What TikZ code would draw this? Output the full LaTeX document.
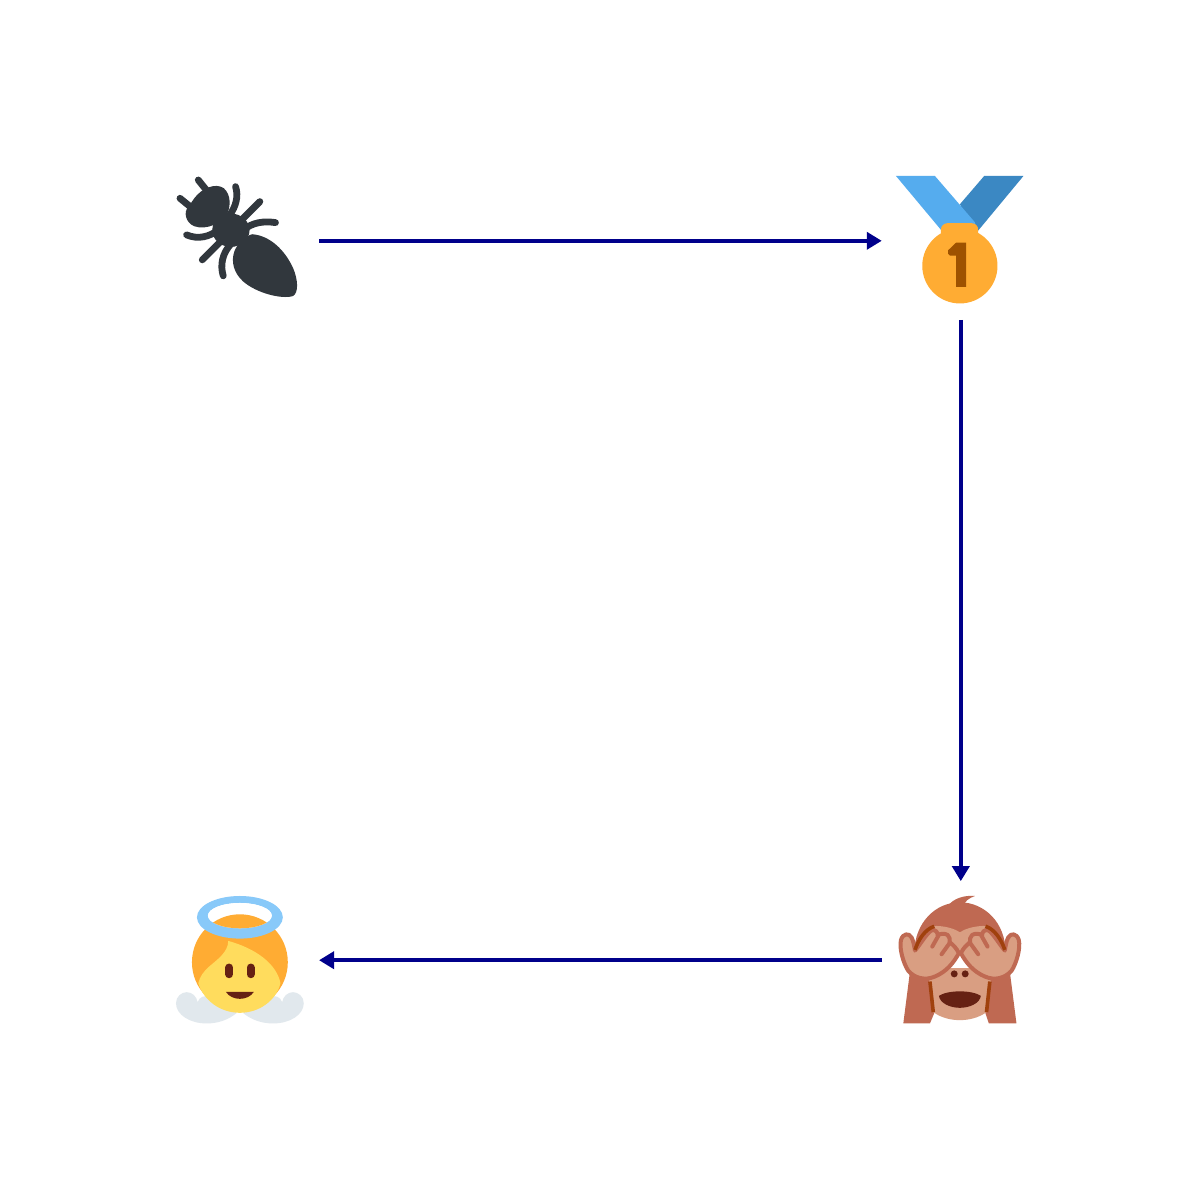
\documentclass[tikz,border=0pt]{standalone}
\usetikzlibrary{arrows.meta}
\definecolor{flowblue}{HTML}{00008B}
\definecolor{antdark}{HTML}{31373D}
\definecolor{ribbonlight}{HTML}{55ACEE}
\definecolor{ribbondark}{HTML}{3B88C3}
\definecolor{gold}{HTML}{FFAC33}
\definecolor{numbrown}{HTML}{9E5200}
\definecolor{furbrown}{HTML}{BF6952}
\definecolor{skintone}{HTML}{D99E82}
\definecolor{deepbrown}{HTML}{662113}
\definecolor{linebrown}{HTML}{A0410D}
\definecolor{wing}{HTML}{E1E8ED}
\definecolor{halo}{HTML}{88C9F9}
\definecolor{facey}{HTML}{FFDC5D}
\tikzset{
  iconbox/.style={inner sep=0pt,outer sep=0pt,draw=none,minimum width=1.58cm,minimum height=1.58cm},
  flow/.style={draw=flowblue,line width=0.037cm,-{Triangle[length=0.15cm,width=0.17cm,flowblue]}},
  zoomed/.style={x=0.0033333cm,y=-0.0033333cm},
  antleg/.style={draw=antdark,line width=0.068cm,line cap=round},
  handline/.style={draw=furbrown,line width=0.04cm,line cap=round,line join=round},
  darkline/.style={draw=linebrown,line width=0.036cm,line cap=butt},
  eyeline/.style={draw=deepbrown,line width=0.08cm,line cap=round}
}
\begin{document}
\begin{tikzpicture}[x=0.01cm,y=-0.01cm]
\useasboundingbox (0,0) rectangle (1200,1200);
\fill[white] (0,0) rectangle (1200,1200);

% ---------- ant ----------
\begin{scope}[shift={(165,165)},zoomed]
\fill[antdark] (262,208) .. controls (315,212) and (360,255) .. (385,310)
  .. controls (400,345) and (402,385) .. (384,394)
  .. controls (350,404) and (275,385) .. (235,350)
  .. controls (207,325) and (197,290) .. (209,258)
  .. controls (219,235) and (237,215) .. (262,208) -- cycle;
\fill[antdark] (198,196) ellipse [x radius=56,y radius=50];
\fill[antdark] (88,100) .. controls (110,70) and (152,52) .. (177,70)
  .. controls (199,90) and (197,125) .. (187,147)
  .. controls (172,174) and (125,197) .. (88,184)
  .. controls (60,172) and (56,140) .. (70,126) -- cycle;
\draw[antleg] (45,100) -- (78,127);
\draw[antleg] (100,45) -- (128,80);
\draw[antleg] (212,65) .. controls (222,95) and (212,125) .. (195,150);
\draw[antleg] (285,110) -- (225,170);
\draw[antleg] (332,173) .. controls (295,168) and (265,172) .. (235,195);
\draw[antleg] (65,210) .. controls (100,225) and (135,215) .. (160,195);
\draw[antleg] (112,285) -- (175,222);
\draw[antleg] (175,333) .. controls (165,300) and (172,265) .. (200,235);
\end{scope}

% ---------- medal ----------
\begin{scope}[shift={(885,165)},zoomed]
\fill[ribbondark] (225,118) -- (298,33) -- (416,33) -- (280,197) -- (262,190) -- cycle;
\fill[ribbonlight] (33,33) -- (150,33) -- (270,172) -- (275,192) -- (170,197) -- cycle;
\fill[gold] (225,303) circle [radius=113];
\fill[gold,rounded corners=1.8pt] (168,175) rectangle (280,235);
\fill[numbrown] (214,233) -- (244,233) -- (244,366) -- (214,366) -- (214,272)
  -- (195,272) -- (190,267) -- (190,256) -- cycle;
\end{scope}

% ---------- monkey ----------
\begin{scope}[shift={(885,885)},zoomed]
% tuft and head
\fill[furbrown] (190,62) .. controls (205,40) and (240,30) .. (270,33)
  .. controls (250,40) and (240,50) .. (238,60) -- cycle;
\fill[furbrown] (88,200) .. controls (90,115) and (150,52) .. (225,52)
  .. controls (300,52) and (362,115) .. (362,200) -- cycle;
% arms
\fill[furbrown] (75,260) -- (55,416) -- (135,416) -- (150,380) -- (150,260) -- cycle;
\fill[furbrown] (375,260) -- (395,416) -- (312,416) -- (300,380) -- (300,260) -- cycle;
% lower face
\fill[skintone] (135,250) -- (315,250) -- (318,295) -- (305,382)
  .. controls (280,400) and (250,406) .. (225,406)
  .. controls (200,406) and (170,400) .. (145,382)
  -- (133,295) -- cycle;
\draw[darkline] (135,290) -- (145,382);
\draw[darkline] (315,290) -- (305,382);
% upper face
\fill[skintone] (95,200) .. controls (100,150) and (125,122) .. (155,123)
  .. controls (185,124) and (210,132) .. (225,142)
  .. controls (240,132) and (265,124) .. (295,123)
  .. controls (325,122) and (350,150) .. (355,200) -- cycle;
% hands
\foreach \sx/\ox in {1/0,-1/450}{
\begin{scope}[shift={(\ox,0)},xscale=\sx]
\filldraw[handline,fill=skintone]
  (90,197) .. controls (105,180) and (122,150) .. (138,137)
  .. controls (152,130) and (160,145) .. (158,152)
  .. controls (165,145) and (180,145) .. (188,150)
  .. controls (195,156) and (196,165) .. (194,172)
  .. controls (205,180) and (215,190) .. (222,205)
  .. controls (205,235) and (185,260) .. (150,275)
  .. controls (120,288) and (90,280) .. (70,258)
  .. controls (55,235) and (42,190) .. (48,165)
  .. controls (54,145) and (72,143) .. (80,158)
  .. controls (86,170) and (88,185) .. (90,197) -- cycle;
\draw[handline] (142,185) -- (160,153);
\draw[handline] (170,208) -- (196,172);
\draw[darkline] (90,195) .. controls (100,165) and (120,133) .. (148,124);
\end{scope}}
% nostrils
\fill[deepbrown] (208,267) circle [radius=10.5];
\fill[deepbrown] (241,267) circle [radius=10.5];
% mouth
\fill[deepbrown] (162,333) .. controls (190,315) and (260,315) .. (288,333)
  .. controls (285,355) and (255,369) .. (225,369)
  .. controls (195,369) and (165,355) .. (162,333) -- cycle;
\end{scope}

% ---------- angel ----------
\begin{scope}[shift={(165,885)},zoomed]
\fill[wing] (33,355) .. controls (33,335) and (50,322) .. (65,322)
  .. controls (82,322) and (95,335) .. (98,352)
  .. controls (110,320) and (150,330) .. (215,385)
  .. controls (190,405) and (160,416) .. (125,416)
  .. controls (75,416) and (33,390) .. (33,355) -- cycle;
\fill[wing] (417,355) .. controls (417,335) and (400,322) .. (385,322)
  .. controls (368,322) and (355,335) .. (352,352)
  .. controls (340,320) and (300,330) .. (235,385)
  .. controls (260,405) and (290,416) .. (325,416)
  .. controls (375,416) and (417,390) .. (417,355) -- cycle;
\fill[gold] (225,232) circle [radius=144];
\fill[facey] (190,168) .. controls (190,200) and (160,222) .. (135,243)
  .. controls (115,260) and (105,275) .. (100,295)
  .. controls (115,345) and (165,384) .. (225,384)
  .. controls (285,384) and (335,345) .. (347,295)
  .. controls (335,235) and (270,190) .. (190,168) -- cycle;
\fill[halo,even odd rule] (225,97) ellipse [x radius=129,y radius=64]
  (225,92) ellipse [x radius=96,y radius=38];
\begin{scope}
\clip (225,92) ellipse [x radius=96,y radius=38];
\fill[white] (100,40) rectangle (350,140);
\fill[gold] (225,232) circle [radius=144];
\end{scope}
\draw[eyeline] (193,248) -- (193,268);
\draw[eyeline] (257,248) -- (257,268);
\fill[deepbrown] (183,321) -- (267,321) .. controls (258,335) and (242,342) .. (225,342)
  .. controls (208,342) and (192,335) .. (183,321) -- cycle;
\end{scope}

% ---------- graph nodes and connectors ----------
\node[iconbox] (ant) at (240,240.8) {};
\node[iconbox] (medal) at (960.8,240.8) {};
\node[iconbox] (monkey) at (960.8,960.2) {};
\node[iconbox] (angel) at (240,960.2) {};
\draw[flow] (ant) -- (medal);
\draw[flow] (medal) -- (monkey);
\draw[flow] (monkey) -- (angel);
\end{tikzpicture}
\end{document}
